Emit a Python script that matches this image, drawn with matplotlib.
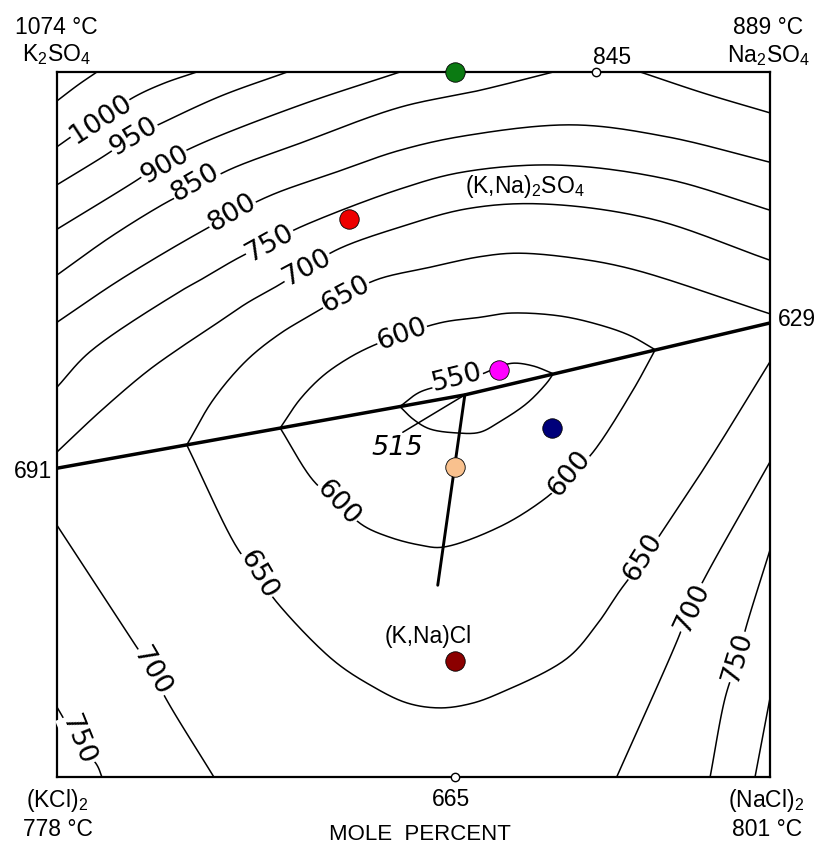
import matplotlib
matplotlib.use("Agg")
import matplotlib.pyplot as plt
import numpy as np

plt.rcParams['font.family'] = ['Liberation Sans', 'DejaVu Sans']
plt.rcParams['mathtext.fontset'] = 'custom'
plt.rcParams['mathtext.rm'] = 'Liberation Sans'
plt.rcParams['mathtext.it'] = 'Liberation Sans:italic'
plt.rcParams['mathtext.default'] = 'rm'

# ---------------- data (x = mol % Na side, y = mol % sulfate side) ----------------
iso_1050 = [(0, 95.9), (3.0, 98.2), (5.6, 100)]
iso_1000 = [(0, 89.4), (3.0, 91.5), (6.0, 93.3), (10.9, 96.5), (15.0, 98.4), (19.6, 100)]
iso_950 = [(0, 84.0), (6.0, 87.7), (10.8, 90.8), (15.0, 92.9), (23.0, 96.6), (32.3, 100)]
iso_900 = [(0, 77.7), (10.8, 84.4), (15.0, 87.2), (20.1, 89.8), (34.1, 95.3), (48.1, 100)]
iso_850_a = [(0, 71.2), (7.5, 76.6), (15.0, 81.3), (19.4, 83.6), (24.3, 86.2), (34.1, 89.9),
             (48.1, 95.0), (59.3, 97.4), (69.6, 100)]
iso_850_b = [(81.8, 100), (90.7, 97.0), (100, 94.2)]
iso_800 = [(0, 64.5), (8.8, 70.5), (20.1, 77.3), (29.5, 82.3), (38.6, 85.6), (48.1, 88.9),
           (57.5, 91.0), (72.4, 92.5), (85.6, 90.8), (100, 87.2)]
iso_750 = [(0, 55.3), (4.6, 60.3), (17.3, 68.9), (20.1, 70.5), (25.2, 73.5), (29.9, 75.9),
           (34.8, 78.3), (48.1, 83.4), (56.9, 85.8), (70.1, 86.8), (85.6, 84.8), (100, 80.4)]
iso_700 = [(0, 46.1), (6.0, 51.8), (12.6, 57.5), (17.3, 60.9), (21.9, 64.0), (26.6, 67.2),
           (31.3, 69.9), (35.0, 72.3), (39.7, 75.0), (48.1, 78.0), (57.5, 80.6), (67.7, 81.3),
           (83.2, 79.2), (100, 73.3)]
iso_650_up = [(18.2, 47.1), (21.9, 53.5), (26.6, 59.1), (31.3, 62.9), (35.9, 65.7), (40.5, 68.4),
              (45.0, 70.6), (52.3, 72.3), (59.3, 73.8), (64.5, 74.3), (72.6, 73.6), (80.8, 72.0),
              (100, 65.7)]
iso_600_up = [(31.3, 49.5), (34.1, 53.6), (37.3, 56.9), (40.7, 59.3), (43.9, 61.0), (48.5, 62.8),
              (54.1, 64.5), (59.3, 65.2), (63.5, 65.8), (70.5, 65.4), (76.2, 64.1), (80.4, 62.6),
              (83.9, 60.6)]
iso_550_up = [(48.1, 52.55), (50.9, 54.6), (55.5, 55.9), (59.7, 57.2), (62.0, 58.2), (64.0, 58.7),
              (66.8, 58.3), (69.6, 57.2)]
iso_550_low = [(48.1, 52.55), (49.9, 50.8), (52.2, 49.4), (56.1, 48.8), (59.3, 48.9), (62.1, 50.4),
               (65.9, 53.0), (68.7, 55.9), (69.6, 57.2)]
iso_600_low = [(31.3, 49.5), (35.9, 42.1), (39.4, 38.9), (42.9, 35.7), (46.7, 34.0), (50.9, 32.9),
               (54.1, 32.6), (62.1, 35.5), (68.2, 39.3), (71.9, 42.6), (75.2, 46.1), (80.8, 54.9),
               (83.9, 60.6)]
iso_650_low = [(18.2, 47.1), (25.2, 32.6), (28.1, 28.7), (30.9, 24.7), (38.7, 16.6), (44.0, 13.0),
               (49.1, 10.5), (53.7, 9.8), (58.0, 10.4), (62.1, 11.9), (71.5, 16.8), (75.7, 21.6),
               (79.0, 26.5), (82.2, 30.8), (85.0, 35.0), (91.2, 44.5), (100, 58.9)]
iso_700_left = [(0, 35.7), (10.8, 19.0), (13.0, 15.6), (15.4, 10.9), (22.0, 0)]
iso_750_left = [(0, 9.9), (2.8, 5.2), (5.6, 1.7), (6.3, 0)]
iso_700_right = [(100, 44.7), (91.2, 28.9), (88.8, 24.1), (87.0, 19.4), (78.5, 0)]
iso_750_right = [(100, 32.2), (96.8, 21.8), (95.4, 16.6), (93.7, 11.2), (91.6, 0)]
iso_800_right = [(100, 11.2), (97.9, 0)]

# phase boundaries
boundary_main = [(0, 43.8), (57.2, 54.2), (100, 64.4)]
boundary_valley = [(57.2, 54.2), (53.4, 27.2)]
tie_515 = [(48.5, 48.9), (57.2, 54.2)]

# isotherm labels
iso_label_text = ['1000', '950', '900', '850', '800', '750', '700', '650', '600', '550', '515',
                  '600', '650', '700', '750', '600', '650', '700', '750']
iso_label_x = [6.1, 10.8, 15.1, 19.4, 24.5, 29.9, 35.1, 40.5, 48.4, 56.1, 47.8,
               39.4, 28.2, 13.3, 2.9, 71.9, 82.2, 89.1, 95.5]
iso_label_y = [93.3, 90.8, 86.8, 84.3, 80.0, 75.7, 72.2, 68.4, 62.7, 56.6, 46.7,
               38.9, 28.7, 14.9, 5.2, 43.0, 31.1, 24.0, 17.0]

# samples
sample_x = [55.8, 41.0, 62.0, 69.4, 55.8, 55.8]
sample_y = [100, 79.1, 57.7, 49.5, 44.0, 16.5]
sample_colors = ['#0b7a12', '#ee0000', '#ff00ff', '#00007a', '#f9c18e', '#8b0000']

# minima on binary edges
minima_x = [75.6, 55.8]
minima_y = [100, 0]
minima_temp = ['845', '665']

# ---------------- figure ----------------
W, H = 822, 848
fig = plt.figure(figsize=(W / 100, H / 100), dpi=100)
ax = fig.add_axes([57 / W, 1 - 777 / H, 713 / W, 705 / H])
ax.set_xlim(0, 100)
ax.set_ylim(0, 100)
ax.set_xticks([])
ax.set_yticks([])
for s in ax.spines.values():
    s.set_linewidth(1.6)


def smooth(pts, n=24):
    P = np.asarray(pts, dtype=float)
    if len(P) < 3:
        return P
    P = np.vstack([2 * P[0] - P[1], P, 2 * P[-1] - P[-2]])
    out = []
    for i in range(1, len(P) - 2):
        p0, p1, p2, p3 = P[i - 1], P[i], P[i + 1], P[i + 2]
        t0 = 0.0
        t1 = t0 + np.linalg.norm(p1 - p0) ** 0.5 + 1e-9
        t2 = t1 + np.linalg.norm(p2 - p1) ** 0.5 + 1e-9
        t3 = t2 + np.linalg.norm(p3 - p2) ** 0.5 + 1e-9
        t = np.linspace(t1, t2, n)[:, None]
        a1 = (t1 - t) / (t1 - t0) * p0 + (t - t0) / (t1 - t0) * p1
        a2 = (t2 - t) / (t2 - t1) * p1 + (t - t1) / (t2 - t1) * p2
        a3 = (t3 - t) / (t3 - t2) * p2 + (t - t2) / (t3 - t2) * p3
        b1 = (t2 - t) / (t2 - t0) * a1 + (t - t0) / (t2 - t0) * a2
        b2 = (t3 - t) / (t3 - t1) * a2 + (t - t1) / (t3 - t1) * a3
        c = (t2 - t) / (t2 - t1) * b1 + (t - t1) / (t2 - t1) * b2
        out.append(c if i == 1 else c[1:])
    return np.vstack(out)


def draw(pts, lw=1.1, z=2, smooth_it=True):
    P = smooth(pts) if smooth_it else np.asarray(pts, dtype=float)
    ax.plot(P[:, 0], P[:, 1], color='black', lw=lw, zorder=z, solid_capstyle='round',
            solid_joinstyle='round')


for curve in [iso_1050, iso_1000, iso_950, iso_900, iso_850_a, iso_850_b, iso_800, iso_750,
              iso_700, iso_650_up, iso_600_up, iso_550_up, iso_550_low, iso_600_low,
              iso_650_low, iso_700_left, iso_750_left, iso_700_right, iso_750_right,
              iso_800_right]:
    draw(curve)
draw(tie_515, smooth_it=False)

draw(boundary_main, lw=2.5, z=4, smooth_it=False)
draw(boundary_valley, lw=2.1, z=4, smooth_it=False)

rotations = [33, 31, 30, 30, 30, 29, 28, 28, 20, 14, 0,
             -47, -60, -60, -68, 50, 58, 65, 73]
for t, x, y, r in zip(iso_label_text, iso_label_x, iso_label_y, rotations):
    ax.text(x, y, t, fontsize=19.5, rotation=r, rotation_mode='anchor', ha='center',
            va='center', family=['DejaVu Sans'], zorder=3,
            style='italic' if t == '515' else 'normal',
            bbox=dict(facecolor='white', edgecolor='none', pad=0.3))

for x, y, c in zip(sample_x, sample_y, sample_colors):
    ax.plot(x, y, 'o', ms=14, mfc=c, mec='black', mew=0.6, zorder=6, clip_on=False)

ax.plot(minima_x, minima_y, 'o', ms=6, mfc='white', mec='black', mew=1.0, zorder=6,
        clip_on=False)


def ftext(px, py, s, size=16.5, **kw):
    fig.text(px / W, 1 - py / H, s, fontsize=size, ha='center', va='center', **kw)


ftext(56, 27, '1074 °C')
ftext(56, 55, r'K$_2$SO$_4$')
ftext(768, 27, '889 °C')
ftext(768, 56, r'Na$_2$SO$_4$')
ftext(612, 57, minima_temp[0])
ftext(451, 800, minima_temp[1])
ftext(797, 319, '629')
ftext(33, 471, '691')
ftext(525, 186, r'(K,Na)$_2$SO$_4$')
ftext(428, 637, '(K,Na)Cl')
ftext(57, 801, r'(KCl)$_2$')
ftext(58, 829, '778 °C')
ftext(766, 801, r'(NaCl)$_2$')
ftext(767, 829, '801 °C')
ftext(420, 834, 'MOLE  PERCENT', size=16)

fig.savefig('out.png', dpi=100)
